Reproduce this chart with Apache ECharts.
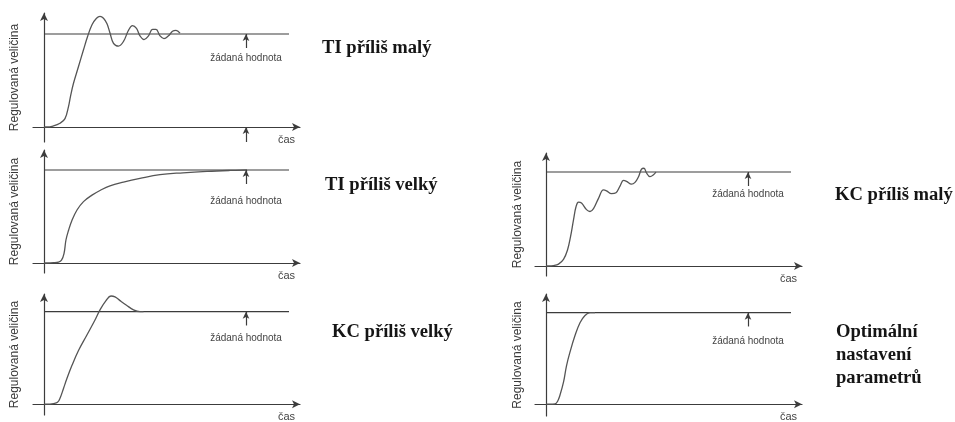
<!DOCTYPE html>
<html>
<head>
<meta charset="utf-8">
<script src="https://cdn.jsdelivr.net/npm/echarts@6/dist/echarts.min.js"></script>
<style>
  html, body { margin: 0; padding: 0; background: #fff; }
  #chart { width: 955px; height: 422px; }
</style>
</head>
<body>
<div id="chart"></div>
<script>
// Step responses of a controlled variable (value 1 = setpoint), time in arbitrary units
const tiMaly = [
  [0, 0], [0.3, 0], [0.9, 0.01], [1.6, 0.04], [2.1, 0.09], [2.45, 0.22], [2.65, 0.33],
  [2.95, 0.47], [3.45, 0.65], [3.95, 0.83], [4.35, 0.97], [4.8, 1.1], [5.25, 1.17],
  [5.6, 1.19], [5.95, 1.17], [6.3, 1.11], [6.6, 1.01], [6.95, 0.9], [7.45, 0.87],
  [7.95, 0.92], [8.45, 1.04], [8.85, 1.09], [9.25, 1.06], [9.6, 0.98], [10.0, 0.94],
  [10.45, 0.98], [10.85, 1.05], [11.2, 1.05], [11.6, 0.98], [12.0, 0.95], [12.45, 0.98],
  [12.85, 1.03], [13.2, 1.04], [13.6, 1.01]
];
const tiVelky = [
  [0, 0], [0.3, 0], [0.95, 0.003], [1.45, 0.01], [1.75, 0.03], [2.0, 0.1], [2.2, 0.25],
  [2.45, 0.35], [2.8, 0.46], [3.3, 0.57], [3.95, 0.66], [4.8, 0.73], [5.6, 0.78],
  [6.6, 0.83], [7.95, 0.87], [9.6, 0.91], [11.6, 0.95], [13.9, 0.97], [16.3, 0.985],
  [18.6, 0.995], [20.3, 1.0]
];
const kcVelky = [
  [0, 0], [0.3, 0], [0.95, 0.007], [1.35, 0.02], [1.6, 0.064], [1.95, 0.17], [2.3, 0.28],
  [2.8, 0.42], [3.45, 0.58], [4.25, 0.74], [5.1, 0.91], [5.6, 1.02], [6.2, 1.12],
  [6.7, 1.17], [7.1, 1.16], [7.6, 1.12], [8.25, 1.07], [8.95, 1.02], [9.6, 1.0], [9.95, 1.0]
];
const kcMaly = [
  [0, 0], [0.25, 0], [0.75, 0.004], [1.25, 0.02], [1.75, 0.07], [2.15, 0.17], [2.45, 0.31],
  [2.75, 0.49], [3.0, 0.63], [3.25, 0.68], [3.55, 0.67], [4.05, 0.6], [4.4, 0.58],
  [4.75, 0.61], [5.25, 0.72], [5.75, 0.81], [6.05, 0.8], [6.55, 0.77], [7.0, 0.78],
  [7.4, 0.85], [7.75, 0.91], [8.05, 0.9], [8.55, 0.87], [8.9, 0.89], [9.25, 0.95],
  [9.55, 1.03], [9.8, 1.04], [10.05, 0.99], [10.4, 0.95], [10.75, 0.97], [11.0, 1.0]
];
const optimal = [
  [0, 0], [0.4, 0], [0.9, 0.003], [1.15, 0.03], [1.4, 0.1], [1.75, 0.24], [2.05, 0.42],
  [2.4, 0.57], [2.9, 0.75], [3.4, 0.89], [3.9, 0.97], [4.4, 1.0], [4.9, 1.0]
];

// setpoint level, length of the setpoint line and position of its marker arrow
const setpoint = 1;
const setpointEnd = 24.5;
const markerT = 20.2;

// texts
const yName = 'Regulovaná veličina';
const xName = 'čas';
const setpointText = 'žádaná hodnota';
const captions = ['TI příliš malý', 'TI příliš velký', 'KC příliš velký', 'KC příliš malý', 'Optimální\nnastavení\nparametrů'];

// panel layout in pixels: x0 = y-axis position, y0 = baseline, y1 = setpoint line
const panels = [
  { data: tiMaly,  left: 33,  right: 300, x0: 44,  top: 13,  bottom: 142, y0: 127, y1: 34,  textGap: 5,  nameGap: 12, bottomArrow: true },
  { data: tiVelky, left: 33,  right: 300, x0: 44,  top: 150, bottom: 273, y0: 263, y1: 170, textGap: 12, nameGap: 12 },
  { data: kcVelky, left: 33,  right: 300, x0: 44,  top: 294, bottom: 417, y0: 406, y1: 312, textGap: 8,  nameGap: 12 },
  { data: kcMaly,  left: 535, right: 802, x0: 546, top: 153, bottom: 276, y0: 266, y1: 172, textGap: 3,  nameGap: 11 },
  { data: optimal, left: 535, right: 802, x0: 546, top: 294, bottom: 418, y0: 406, y1: 313, textGap: 10, nameGap: 11 }
];
const pxPerT = 10;

const axisColor = '#3c3c3c';
const curveColor = '#555';

const grids = [], xAxes = [], yAxes = [], series = [];
panels.forEach((p, i) => {
  const k = p.y0 - p.y1;
  grids.push({ left: p.left, top: p.top, width: p.right - p.left, height: p.bottom - p.top });
  xAxes.push({
    gridIndex: i, type: 'value',
    min: (p.left - p.x0) / pxPerT, max: (p.right - p.x0) / pxPerT,
    axisLine: { onZero: true, symbol: ['none', 'arrow'], symbolSize: [6, 8], lineStyle: { color: axisColor, width: 1.2 } },
    axisTick: { show: false }, axisLabel: { show: false }, splitLine: { show: false },
    name: xName, nameLocation: 'end', nameGap: -22,
    nameTextStyle: { color: '#444', fontSize: 11, fontFamily: 'Liberation Sans', verticalAlign: 'top', padding: [7, 0, 0, 0] }
  });
  yAxes.push({
    gridIndex: i, type: 'value',
    min: (p.y0 - p.bottom) / k, max: (p.y0 - p.top) / k,
    axisLine: { onZero: true, symbol: ['none', 'arrow'], symbolSize: [6, 8], lineStyle: { color: axisColor, width: 1.2 } },
    axisTick: { show: false }, axisLabel: { show: false }, splitLine: { show: false },
    name: yName, nameLocation: 'middle', nameRotate: 90, nameGap: p.nameGap,
    nameTextStyle: { color: '#3a3a3a', fontSize: 12, fontFamily: 'Liberation Sans' }
  });

  const arrows = [[
    { coord: [markerT, setpoint - 14 / k] },
    { coord: [markerT, setpoint] }
  ]];
  if (p.bottomArrow) {
    arrows.push([{ coord: [markerT, -15 / k] }, { coord: [markerT, 0] }]);
  }
  // setpoint line with its marker arrows and label
  series.push({
    type: 'line', xAxisIndex: i, yAxisIndex: i,
    data: [[0, setpoint], [setpointEnd, setpoint]],
    showSymbol: false, silent: true,
    lineStyle: { color: axisColor, width: 1.2 },
    markLine: {
      silent: true, animation: false,
      symbol: ['none', 'arrow'], symbolSize: [5, 7],
      lineStyle: { color: axisColor, width: 1.2, type: 'solid' },
      label: { show: false },
      data: arrows.map((a, j) => j === 0 ? [
        Object.assign({}, a[0], { label: { show: true, position: 'start', distance: p.textGap, formatter: setpointText, color: '#444', fontSize: 10, fontFamily: 'Liberation Sans' } }),
        a[1]
      ] : a)
    }
  });
  // response curve
  series.push({
    type: 'line', xAxisIndex: i, yAxisIndex: i,
    data: p.data, smooth: 0.4, showSymbol: false, silent: true,
    lineStyle: { color: curveColor, width: 1.3 }
  });
});

const capStyle = { fontFamily: 'Liberation Serif', fontWeight: 'bold', fontSize: 18.6, color: '#151515', lineHeight: 23 };
const titles = [
  { text: captions[0], left: 322, top: 37 },
  { text: captions[1], left: 325, top: 174 },
  { text: captions[2], left: 332, top: 321 },
  { text: captions[3], left: 835, top: 184 },
  { text: captions[4], left: 836, top: 321 }
].map(t => Object.assign(t, { padding: 0, textStyle: capStyle }));

const chart = echarts.init(document.getElementById('chart'), null, { renderer: 'canvas' });
chart.setOption({
  animation: false,
  backgroundColor: '#fff',
  title: titles,
  grid: grids,
  xAxis: xAxes,
  yAxis: yAxes,
  series: series
});
</script>
</body>
</html>
